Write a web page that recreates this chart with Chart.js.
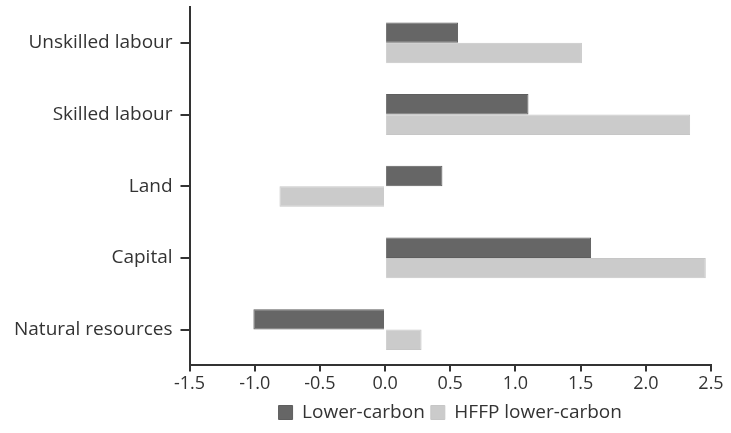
<!DOCTYPE html>
<html>
<head>
<meta charset="utf-8">
<script src="https://cdn.jsdelivr.net/npm/chart.js@4"></script>
<style>
  html, body { margin: 0; padding: 0; background: #fff; }
  #wrap { width: 731px; height: 433px; }
</style>
</head>
<body>
<div id="wrap"><canvas id="myChart"></canvas></div>
<script>
// data
var categories = ["Unskilled labour", "Skilled labour", "Land", "Capital", "Natural resources"];
var lowerCarbon = [0.56, 1.10, 0.44, 1.58, -1.01];
var hffpLowerCarbon = [1.51, 2.34, -0.81, 2.46, 0.28];
var seriesNames = ["Lower-carbon", "HFFP lower-carbon"];
var xTicks = [-1.5, -1.0, -0.5, 0.0, 0.5, 1.0, 1.5, 2.0, 2.5];

var axisColor = "#333333";
var textColor = "#333333";
var fontFamily = "'Open Sans', sans-serif";

new Chart(document.getElementById("myChart"), {
    type: "bar",
    data: {
        labels: categories,
        datasets: [
            {
                label: seriesNames[0],
                data: lowerCarbon,
                backgroundColor: "#666666",
                borderColor: "#5e5e5e",
                borderWidth: 1,
                categoryPercentage: 0.57,
                barPercentage: 1.0
            },
            {
                label: seriesNames[1],
                data: hffpLowerCarbon,
                backgroundColor: "#cbcbcb",
                borderColor: "#c6c6c6",
                borderWidth: 1,
                categoryPercentage: 0.57,
                barPercentage: 1.0
            }
        ]
    },
    options: {
        indexAxis: "y",
        responsive: true,
        maintainAspectRatio: false,
        animation: false,
        layout: { padding: { left: 6, right: 20, top: 7, bottom: 1 } },
        plugins: {
            tooltip: { enabled: false },
            legend: {
                position: "bottom",
                fullSize: false,
                labels: {
                    color: textColor,
                    font: { family: fontFamily, size: 19 },
                    boxWidth: 14,
                    boxHeight: 14,
                    padding: 6
                }
            }
        },
        scales: {
            x: {
                type: "linear",
                min: xTicks[0],
                max: xTicks[xTicks.length - 1],
                afterBuildTicks: function (axis) {
                    axis.ticks = xTicks.map(function (v) { return { value: v }; });
                },
                ticks: {
                    color: textColor,
                    font: { family: fontFamily, size: 18 },
                    padding: 2,
                    callback: function (v) { return Number(v).toFixed(1); }
                },
                grid: {
                    drawOnChartArea: false,
                    drawTicks: true,
                    tickLength: 6,
                    color: axisColor,
                    lineWidth: 2
                },
                border: { display: true, color: axisColor, width: 2 }
            },
            y: {
                afterFit: function (axis) {
                    axis.paddingTop = 0;
                    axis.paddingBottom = 0;
                },
                ticks: {
                    color: textColor,
                    font: { family: fontFamily, size: 19 },
                    padding: 8
                },
                grid: {
                    offset: false,
                    drawOnChartArea: false,
                    drawTicks: true,
                    tickLength: 9,
                    color: axisColor,
                    lineWidth: 2
                },
                border: { display: true, color: axisColor, width: 2 }
            }
        }
    }
});
</script>
</body>
</html>
